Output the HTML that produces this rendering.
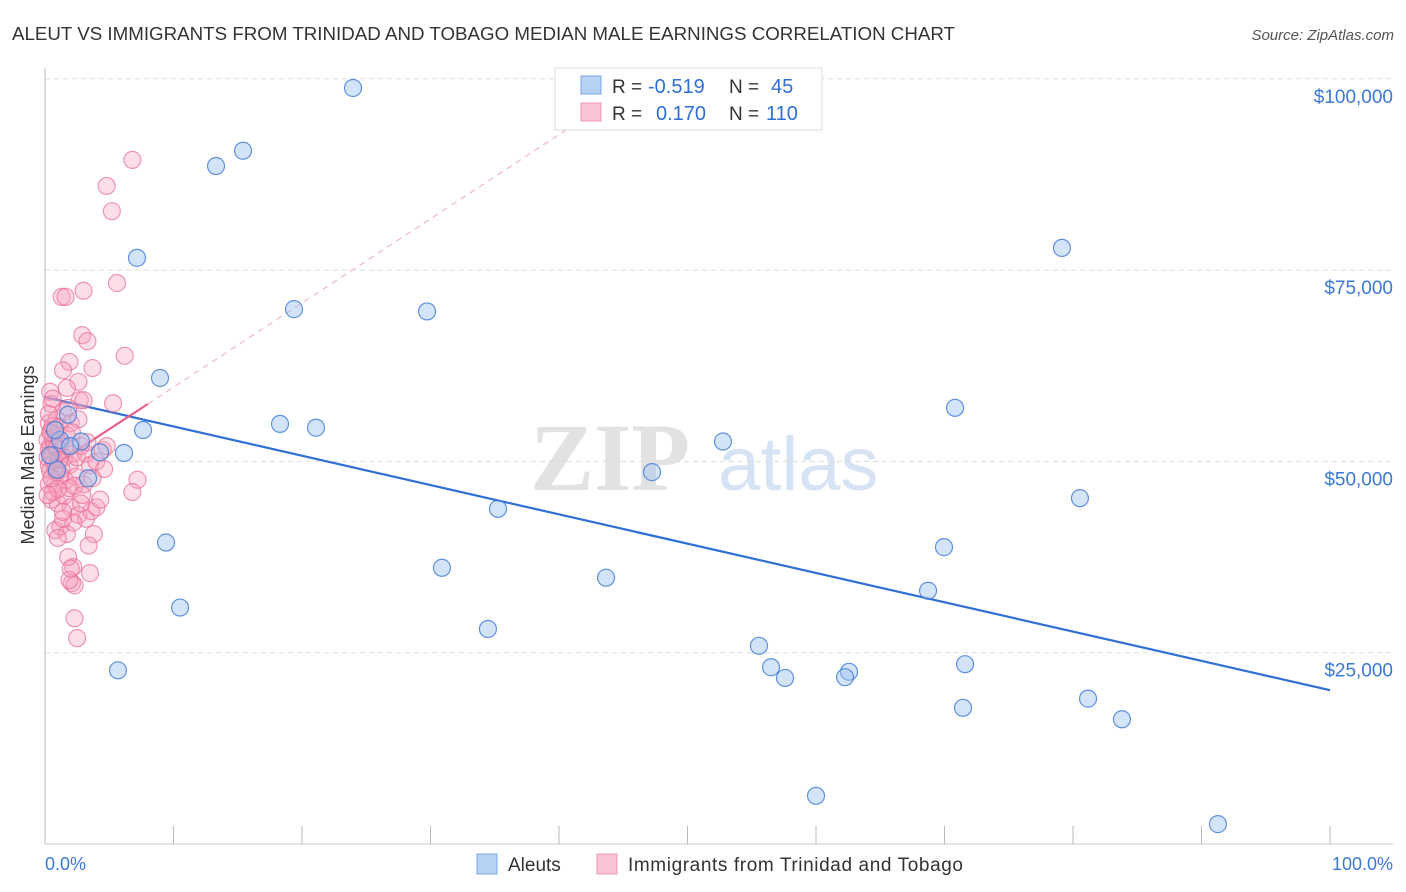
<!DOCTYPE html>
<html><head><meta charset="utf-8">
<style>
body{margin:0;background:#fff;font-family:"Liberation Sans",sans-serif;}
svg{display:block}
</style></head>
<body>
<svg id="chart" width="1406" height="892">
<text x="12" y="40" font-size="18" fill="#333" textLength="943" lengthAdjust="spacingAndGlyphs">ALEUT VS IMMIGRANTS FROM TRINIDAD AND TOBAGO MEDIAN MALE EARNINGS CORRELATION CHART</text>
<text x="1394" y="40" font-size="15" fill="#555" font-style="italic" text-anchor="end">Source: ZipAtlas.com</text>
<text x="34" y="455" font-size="18" fill="#333" text-anchor="middle" transform="rotate(-90 34 455)">Median Male Earnings</text>
<g><text x="690" y="490" font-size="96" font-family="Liberation Serif,serif" fill="#e2e2e2" text-anchor="end" font-weight="bold">ZIP</text><text x="718" y="490" font-size="76" fill="#d6e3f5">atlas</text></g>
<g id="grid"></g><g id="axes"></g><g id="lines"></g><g id="pts"></g>
<g>
<rect x="555" y="68" width="267" height="62" fill="#fff" stroke="#ddd"/>
<rect x="581" y="76" width="20" height="18" fill="#b7d1f3" stroke="#7aa6e3"/>
<rect x="581" y="103" width="20" height="18" fill="#f9c5d4" stroke="#ee96b0"/>
<text x="612" y="93" font-size="19" fill="#333">R =</text>
<text x="648" y="93" font-size="20" fill="#2f6fd1">-0.519</text>
<text x="729" y="93" font-size="19" fill="#333">N =</text>
<text x="771" y="93" font-size="20" fill="#2f6fd1">45</text>
<text x="612" y="120" font-size="19" fill="#333">R =</text>
<text x="656" y="120" font-size="20" fill="#2f6fd1">0.170</text>
<text x="729" y="120" font-size="19" fill="#333">N =</text>
<text x="766" y="120" font-size="20" fill="#2f6fd1">110</text>
</g>
<g>
<rect x="477" y="854" width="20" height="20" fill="#b7d1f3" stroke="#7aa6e3"/>
<text x="508" y="871" font-size="19" fill="#333">Aleuts</text>
<rect x="597" y="854" width="20" height="20" fill="#f9c5d4" stroke="#ee96b0"/>
<text x="628" y="871" font-size="19" fill="#333" textLength="335">Immigrants from Trinidad and Tobago</text>
</g>
<text x="45" y="870" font-size="18" fill="#3b78d8">0.0%</text>
<text x="1393" y="870" font-size="18" fill="#3b78d8" text-anchor="end">100.0%</text>
</svg>
<script>
const yTicks=[25000,50000,75000,100000];
const yTickLabels=["$25,000","$50,000","$75,000","$100,000"];
const xTicks=[0,10,20,30,40,50,60,70,80,90,100];
const blueX=[23.97,15.41,13.31,7.16,19.38,29.73,79.14,8.95,7.63,18.29,21.09,70.82,2.80,6.15,52.76,3.35,47.24,80.54,35.25,9.42,69.96,30.89,43.66,10.51,68.72,34.47,55.56,56.50,57.59,62.57,62.26,71.60,5.68,71.44,81.17,83.81,60.00,91.28,1.79,1.17,0.39,4.28,0.93,1.95,0.78];
const blueY=[98.8,90.6,88.6,76.6,69.9,69.6,77.9,60.9,54.1,54.9,54.4,57.0,52.6,51.1,52.6,47.8,48.6,45.2,43.8,39.4,38.8,36.1,34.8,30.9,33.1,28.1,25.9,23.1,21.7,22.5,21.8,23.5,22.7,17.8,19.0,16.3,6.3,2.6,56.1,52.8,50.8,51.2,48.9,52.0,54.1];
const pinkX=[6.8,4.8,5.2,5.6,1.3,1.6,3.0,2.9,3.3,6.2,1.9,3.7,1.4,2.6,1.7,5.3,2.7,0.4,7.2,6.8,2.2,3.5,2.1,2.3,1.9,2.3,2.5,
0.3,0.5,0.8,0.4,0.6,0.2,1.0,1.2,0.7,0.3,1.5,0.9,1.4,1.8,0.5,2.0,1.1,0.6,0.2,1.6,2.2,0.4,0.9,1.3,1.9,2.5,2.8,3.2,3.5,4.0,4.5,4.8,0.8,1.6,2.4,3.0,
0.5,1.0,1.5,2.0,2.6,3.2,3.6,4.0,4.3,3.8,0.8,1.2,1.7,2.2,0.6,1.9,3.4,1.0,2.8,4.6,3.3,2.6,3.0,1.4,0.3,1.8,2.0,
0.3,0.5,0.7,0.9,1.1,0.4,0.6,0.8,1.2,0.3,1.7,2.1,0.5,1.0,2.3,0.2,1.4,2.9,3.7,0.6];
const pinkY=[89.4,86.0,82.7,73.3,71.5,71.5,72.3,66.5,65.7,63.8,63.0,62.2,61.9,60.4,59.6,57.6,58.0,59.1,47.6,46.0,36.2,35.4,34.1,33.8,34.5,29.5,26.9,
55,54,53.5,52,51,50.5,52.5,51.5,50,49.5,50.5,55.5,56.5,57,57.5,55,54.5,53,52.8,52,51,48.8,48.5,49,49.5,50.5,52,51,49.5,50,51.5,52,47,47.5,48,47,
45,44.5,45.5,44,43,42.5,43.5,44,45,40.5,41,41.5,40.5,42,46,46.5,39,40,44.5,49,52.5,55.5,58,42.5,47,37.5,36,
51.5,50.8,52.2,51.8,50.2,53.8,54.6,49.2,48.2,56.2,53.4,53.8,47.8,46.4,46.8,45.6,43.4,45.6,47.8,58.2];
const blueTrend=[58.4,20.1];
const pinkTrend=[48.7,1.1];
const NS='http://www.w3.org/2000/svg';
const X0=45,X1=1330,Y0=844,PPK=191.3/25;
const sx=v=>X0+(X1-X0)*v/100;
const sy=k=>Y0-k*PPK;
function mk(tag,attrs,parent){const e=document.createElementNS(NS,tag);for(const k in attrs)e.setAttribute(k,attrs[k]);document.getElementById(parent).appendChild(e);return e;}
yTicks.forEach((t,i)=>{
 const y=sy(t/1000);
 const g=mk('line',{x1:45,x2:1393,y1:y,y2:y,stroke:'#ddd','stroke-dasharray':'5,4'},'grid');
 
 
 const tx=mk('text',{x:1393,y:y+24,'font-size':19,fill:'#3b78d8','text-anchor':'end'},'axes');
 tx.textContent=yTickLabels[i];
 
 
});
const ax=mk('line',{x1:45,x2:45,y1:68,y2:844,stroke:'#bbb'},'axes');


const bx=mk('line',{x1:45,x2:1393,y1:844,y2:844,stroke:'#ccc'},'axes');


xTicks.forEach(t=>{
 const l=mk('line',{x1:sx(t),x2:sx(t),y1:826,y2:844,stroke:'#bbb'},'axes');
 
 
});
pinkX.forEach((v,i)=>{
 const c=mk('circle',{cx:sx(v),cy:sy(pinkY[i]),r:8.5,fill:'rgba(247,160,188,0.35)',stroke:'rgba(232,110,150,0.7)','stroke-width':1.2},'pts');
 
 
});
blueX.forEach((v,i)=>{
 const c=mk('circle',{cx:sx(v),cy:sy(blueY[i]),r:8.5,fill:'rgba(160,196,240,0.45)',stroke:'rgba(60,120,215,0.8)','stroke-width':1.2},'pts');
 
 
});
const bl=mk('line',{x1:sx(0),y1:sy(blueTrend[0]),x2:sx(100),y2:sy(blueTrend[1]),stroke:'#2e6fd8','stroke-width':2.2},'lines');


const pe=(98-pinkTrend[0])/pinkTrend[1];
const pd=mk('line',{x1:sx(8),y1:sy(pinkTrend[0]+8*pinkTrend[1]),x2:sx(pe),y2:sy(pinkTrend[0]+pe*pinkTrend[1]),stroke:'#f0a8c0','stroke-width':1,'stroke-dasharray':'6,5'},'lines');


const ps=mk('line',{x1:sx(0.15),y1:sy(pinkTrend[0]+0.15*pinkTrend[1]),x2:sx(8),y2:sy(pinkTrend[0]+8*pinkTrend[1]),stroke:'#e8608c','stroke-width':2.2},'lines');


</script>
</body></html>
